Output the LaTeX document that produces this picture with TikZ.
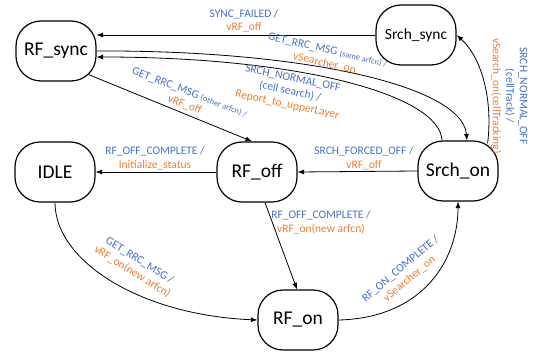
\documentclass[tikz,border=0pt]{standalone}
\usepackage{fontspec}
\setmainfont{Carlito}
\usetikzlibrary{arrows.meta,calc}
\definecolor{evblue}{RGB}{68,114,196}
\definecolor{actorange}{RGB}{237,125,49}
% event text (blue), action text (orange), small qualifier
\newcommand\evtxt[1]{\textcolor{evblue}{#1}}
\newcommand\acttxt[1]{\textcolor{actorange}{#1}}
\newcommand\qualtxt[1]{{\fontsize{8.5}{10}\selectfont #1}}
\begin{document}
\begin{tikzpicture}[x=1pt,y=-1pt,
  state/.style={draw,line width=1.2pt,rounded corners=25pt,minimum width=80pt,
    minimum height=60pt,inner sep=0pt,font=\fontsize{19.5}{22}\selectfont},
  lbl/.style={font=\fontsize{11.5}{13.5}\selectfont,align=center,inner sep=0pt},
  arr/.style={-{Latex[length=6.5pt,width=5pt]},line width=0.8pt},
]
\useasboundingbox (0,0) rectangle (539,353);

% states
\node[state] (rfsync) at (56,51) {RF\_sync};
\node[state,font=\fontsize{15.5}{18}\selectfont] (srchsync) at (416,35) {Srch\_sync};
\node[state] (idle) at (55,172) {IDLE};
\node[state] (rfoff) at (257,172) {RF\_off};
\node[state] (srchon) at (458,171) {Srch\_on};
\node[state] (rfon) at (298,320) {RF\_on};

% transitions
\draw[arr] (srchsync.west) -- (srchsync.west -| rfsync.east);
\draw[arr] (rfsync.east) .. controls (300,50) and (462,85) .. ($(srchon.north)+(9,0)$);
\draw[arr] ($(srchon.north)+(-16,0)$) .. controls (440,95) and (300,57) .. ($(rfsync.east)+(0,6)$);
\draw[arr] ($(rfsync.south east)+(-8,-7)$) -- ($(rfoff.north)+(-5,0)$);
\draw[arr] (srchon.west) -- (rfoff.east);
\draw[arr] (rfoff.west) -- (idle.east);
\draw[arr] ($(rfoff.south)+(8,0)$) -- ($(rfon.north)+(-1,0)$);
\draw[arr] (idle.south) .. controls +(0,58) and +(-118,-5) .. (rfon.west);
\draw[arr] (rfon.east) .. controls +(83,-2) and +(0,60) .. (srchon.south);
\draw[arr] ($(srchon.north east)+(-11,3)$) .. controls (493,100) and (482,58) .. (srchsync.east);

% transition labels
\node[lbl] (lsyncfail) at (244,21) {\evtxt{SYNC\_FAILED /}\\\acttxt{vRF\_off}};
\node[lbl,rotate=-13] (lsame) at (326,57)
  {\evtxt{GET\_RRC\_MSG \qualtxt{(same arfcn) /}}\\\acttxt{vSearcher\_on}};
\node[lbl,rotate=-12] (lcellsearch) at (290,92)
  {\evtxt{SRCH\_NORMAL\_OFF}\\\evtxt{(cell search) /}\\\acttxt{Report\_to\_upperLayer}};
\node[lbl,rotate=-21] (lother) at (187,99)
  {\evtxt{GET\_RRC\_MSG \qualtxt{(other arfcn) /}}\\\acttxt{vRF\_off}};
\node[lbl,rotate=-90] (lcelltrack) at (509,96)
  {\evtxt{SRCH\_NORMAL\_OFF}\\\evtxt{(cellTrack) /}\\\acttxt{vSearch\_on(cellTracking)}};
\node[lbl] (lforced) at (364,158.5) {\evtxt{SRCH\_FORCED\_OFF /}\\\acttxt{vRF\_off}};
\node[lbl] (loffidle) at (155,158.5) {\evtxt{RF\_OFF\_COMPLETE /}\\\acttxt{Initialize\_status}};
\node[lbl] (loffon) at (321,222.5) {\evtxt{RF\_OFF\_COMPLETE /}\\\acttxt{vRF\_on(new arfcn)}};
\node[lbl,rotate=-32] (lidleon) at (136,266) {\evtxt{GET\_RRC\_MSG /}\\\acttxt{vRF\_on(new arfcn)}};
\node[lbl,rotate=40] (lonsrch) at (405,274) {\evtxt{RF\_ON\_COMPLETE /}\\\acttxt{vSearcher\_on}};
\end{tikzpicture}
\end{document}
